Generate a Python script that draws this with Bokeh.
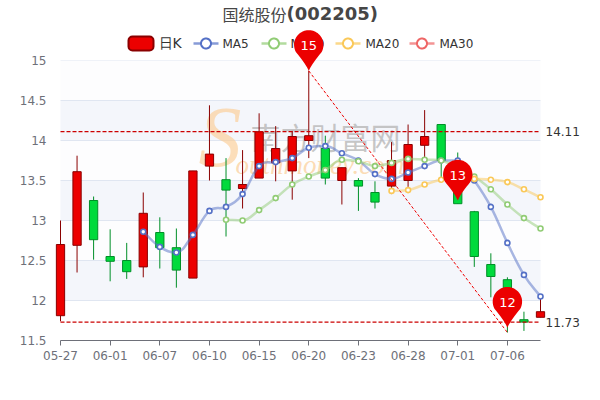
import numpy as np
from bokeh.core.properties import value
from bokeh.embed import file_html
from bokeh.models import FixedTicker, Label, Range1d
from bokeh.plotting import figure
from bokeh.resources import INLINE

title_name = "国统股份"
title_code = "(002205)"
opens = [11.81, 12.69, 13.25, 12.55, 12.50, 12.42, 12.85, 12.66, 12.28, 13.68,
         13.51, 13.40, 13.53, 13.72, 13.62, 14.00, 13.90, 13.50, 13.50, 13.35,
         13.43, 13.50, 13.94, 14.20, 13.50, 13.11, 12.45, 12.26, 11.76, 11.79]
closes = [12.70, 13.61, 12.76, 12.49, 12.36, 13.09, 12.66, 12.38, 13.62, 13.83,
          13.38, 13.45, 14.11, 13.90, 14.05, 14.06, 13.53, 13.66, 13.43, 13.23,
          13.75, 13.95, 14.05, 13.75, 13.21, 12.55, 12.30, 11.98, 11.73, 11.86]
highs = [13.00, 13.81, 13.30, 12.89, 12.72, 13.35, 13.04, 12.90, 13.62, 14.44,
         13.78, 13.88, 14.34, 14.18, 14.12, 14.87, 14.06, 13.66, 13.53, 13.49,
         13.98, 14.20, 14.38, 14.20, 13.85, 13.12, 12.59, 12.29, 11.86, 12.02]
lows = [11.74, 12.35, 12.51, 12.24, 12.27, 12.29, 12.40, 12.16, 12.28, 13.50,
        12.80, 13.15, 13.53, 13.49, 13.26, 13.78, 13.45, 13.20, 13.12, 13.15,
        13.33, 13.42, 13.79, 13.54, 13.21, 12.42, 12.04, 11.60, 11.62, 11.79]

ma5 = [None]*5 + [12.86, 12.67, 12.60, 12.82, 13.12, 13.17, 13.33, 13.68, 13.73, 13.78,
                  13.91, 13.93, 13.84, 13.75, 13.58, 13.52, 13.60, 13.68, 13.75, 13.75,
                  13.50, 13.17, 12.72, 12.32, 12.05]
ma10 = [None]*10 + [13.01, 13.00, 13.13, 13.28, 13.45, 13.55, 13.63, 13.76, 13.74, 13.68,
                    13.72, 13.77, 13.76, 13.75, 13.66, 13.55, 13.39, 13.20, 13.03, 12.90]
ma20 = [None]*20 + [13.37, 13.38, 13.45, 13.51, 13.53, 13.52, 13.51, 13.48, 13.39, 13.29]

tick_positions = [0, 3, 6, 9, 12, 15, 18, 21, 24, 27]
tick_labels = ["05-27", "06-01", "06-07", "06-10", "06-15", "06-20", "06-23", "06-28", "07-01", "07-06"]
y_ticks = [11.5, 12, 12.5, 13, 13.5, 14, 14.5, 15]
y_tick_labels = ["11.5", "12", "12.5", "13", "13.5", "14", "14.5", "15"]
shaded_bands = [12.25, 13.25, 14.25]
plain_bands = [12.75, 13.75, 14.75]
pin_x = [15, 24, 27]
pin_y = [14.87, 13.25, 11.66]
pin_text = ["15", "13", "12"]
level_values = [14.11, 11.73]
level_labels = ["14.11", "11.73"]
trend_x = [15, 27]
trend_y = [14.87, 11.60]

RED, RED_D, GREEN, GREEN_D = "#ec0000", "#8a0000", "#00da3c", "#008f28"
X_MAX = len(opens) - 1
PX_X, PX_Y = 480 / X_MAX, 80.0
PAD = 8 / PX_X


def dx(px):
    """Picture pixel to x value."""
    return (px - 60) / PX_X


def dy(py):
    """Picture pixel to y value."""
    return 15 - (py - 60) / PX_Y


p = figure(width=600, height=400, output_backend="svg", toolbar_location=None,
           x_range=Range1d(-PAD, X_MAX + PAD), y_range=Range1d(11.5, 15),
           min_border_left=52, min_border_right=52, min_border_top=60, min_border_bottom=60,
           background_fill_color="white", border_fill_color="white", outline_line_color=None)

# axes
p.xaxis.ticker = FixedTicker(ticks=tick_positions)
p.xaxis.major_label_overrides = dict(zip(tick_positions, tick_labels))
p.yaxis.ticker = FixedTicker(ticks=y_ticks)
p.yaxis.major_label_overrides = dict(zip(y_ticks, y_tick_labels))
for ax in (p.xaxis, p.yaxis):
    ax.major_label_text_font = "DejaVu Sans"
    ax.major_label_text_font_size = "12px"
    ax.major_label_text_color = "#6E7079"
    ax.minor_tick_line_color = None
p.yaxis.axis_line_color = None
p.yaxis.major_tick_line_color = None
p.yaxis.major_label_standoff = 0
p.xaxis.bounds = (0, X_MAX)
p.xaxis.axis_line_color = "#6E7079"
p.xaxis.major_tick_line_color = "#6E7079"
p.xaxis.major_tick_in = 0
p.xaxis.major_tick_out = 5
p.xaxis.major_label_standoff = 5
p.grid.grid_line_color = None

# bands and grid lines span only the category extent
p.hbar(y=shaded_bands, height=0.5, left=0, right=X_MAX, fill_color="#f4f6fb", line_color=None, level="underlay")
p.hbar(y=plain_bands, height=0.5, left=0, right=X_MAX, fill_color="#fdfdfe", line_color=None, level="underlay")
p.segment(0, y_ticks[1:], X_MAX, y_ticks[1:], line_color="#E0E6F1", line_width=1, level="underlay")

# watermark
for txt, sx, sy, size, font, style, col, alpha in [
    ("S", 198, 184, "86px", "Liberation Serif", "italic", "#fbc98c", 0.6),
    ("outhmoney.com", 235, 179, "27px", "Liberation Serif", "italic", "#fbc98c", 0.65),
    ("南方财富网", 250, 157, "30px", "Noto Sans CJK SC", "normal", "#b4b4b4", 0.75),
]:
    p.add_layout(Label(x=sx - 52, y=340 - sy, x_units="screen", y_units="screen", text=txt, level="underlay",
                       text_font=font, text_font_style=style, text_font_size=size,
                       text_color=col, text_alpha=alpha))

# candles
xs = np.arange(len(opens))
o, c, h, l = map(np.array, (opens, closes, highs, lows))
up = c >= o
for mask, fill, edge in ((up, RED, RED_D), (~up, GREEN, GREEN_D)):
    p.segment(xs[mask], h[mask], xs[mask], l[mask], line_color=edge, line_width=1)
    p.vbar(xs[mask], 0.5, np.minimum(o, c)[mask], np.maximum(o, c)[mask],
           fill_color=fill, line_color=edge, line_width=1)


# moving averages, smoothed with Bezier control points derived from the values
def smooth(series, color):
    ix = np.array([i for i, v in enumerate(series) if v is not None], dtype=float)
    v = np.array([s for s in series if s is not None], dtype=float)
    n = len(v)
    prev_i, next_i = np.maximum(np.arange(n) - 1, 0), np.minimum(np.arange(n) + 1, n - 1)
    slope = (v[next_i] - v[prev_i]) / (ix[next_i] - ix[prev_i])
    turning = (v[1:-1] - v[:-2]) * (v[2:] - v[1:-1]) <= 0
    slope[1:-1][turning] = 0
    p.bezier(ix[:-1], v[:-1], ix[1:], v[1:], ix[:-1] + 0.4, v[:-1] + slope[:-1] * 0.4,
             ix[1:] - 0.4, v[1:] - slope[1:] * 0.4, line_color=color, line_width=2.5, line_alpha=0.5)
    p.scatter(ix, v, size=5, marker="circle", fill_color="white", line_color=color, line_width=1.6)


MA_COLORS = {"MA5": "#5470c6", "MA10": "#91cc75", "MA20": "#fac858", "MA30": "#ee6666"}
smooth(ma5, MA_COLORS["MA5"])
smooth(ma10, MA_COLORS["MA10"])
smooth(ma20, MA_COLORS["MA20"])

# level lines and labels
for val in level_values:
    p.line([0, X_MAX], [val, val], line_color="#cc0000", line_width=1.2, line_dash="4 2")
p.text([X_MAX, X_MAX], level_values, text=level_labels, x_offset=5, text_baseline="middle", level="annotation",
       text_font=value("DejaVu Sans"), text_font_size="12px", text_color="#333333")
p.line(trend_x, trend_y, line_color="#ee0000", line_width=1, line_dash="3 2")


def ui_text(txt, px, py, font="DejaVu Sans", size="12px", style="normal", color="#333333"):
    p.text([dx(px)], [dy(py)], text=[txt], text_baseline="middle", level="annotation", text_font=value(font),
           text_font_size=size, text_font_style=style, text_color=color)


# title
ui_text(title_name, 222, 13, font="Noto Sans CJK SC", size="16px", color="#464646")
ui_text(title_code, 286, 13, size="18px", style="bold", color="#464646")

# legend, drawn at the reference's own positions (the built-in one is clipped outside the frame)
p.quad(left=dx(128), right=dx(153), bottom=dy(50), top=dy(36), fill_color=RED, line_color=RED_D, line_width=2,
       border_radius=4, level="annotation")
ui_text("日K", 158, 42, size="14px")
LEGEND_ICONS = {"MA5": (193, 222), "MA10": (261, 290), "MA20": (335, 365), "MA30": (409, 439)}
ring = np.radians(np.linspace(0, 360, 40))
for name, (icon_px, text_px) in LEGEND_ICONS.items():
    col = MA_COLORS[name]
    p.line([dx(icon_px), dx(icon_px + 25)], [dy(43), dy(43)], line_color=col, line_width=2.5, line_alpha=0.7,
           level="annotation")
    p.patch(dx(icon_px + 12.5) + 5 * np.cos(ring) / PX_X, dy(43) + 5 * np.sin(ring) / PX_Y, fill_color="white",
            line_color=col, line_width=2, level="annotation")
    ui_text(name, text_px, 43)

# pins
for px, py, label in zip(pin_x, pin_y, pin_text):
    R, H = 14.7, 26.0
    ang = np.radians(np.linspace(-30, 210, 50))
    ox, oy = R * np.cos(ang), R * np.sin(ang) + H
    t = np.linspace(0, 1, 10)
    lx = (1 - t) ** 2 * ox[-1] + 2 * t * (1 - t) * (-3.0)
    ly = (1 - t) ** 2 * oy[-1] + 2 * t * (1 - t) * 7.0
    rx = t ** 2 * ox[0] + 2 * t * (1 - t) * 3.0
    ry = t ** 2 * oy[0] + 2 * t * (1 - t) * 7.0
    sx = np.concatenate([ox, lx[1:], rx[1:]])
    sy = np.concatenate([oy, ly[1:], ry[1:]])
    p.patch(px + sx / PX_X, py + sy / PX_Y, fill_color=RED, line_color=None, level="annotation")
    p.text([px], [py + (H - 1) / PX_Y], text=[label], text_align="center", text_baseline="middle",
           level="annotation", text_font=value("DejaVu Sans"), text_font_size="13px", text_color="white")

open("out.html", "w").write(file_html(p, INLINE))
